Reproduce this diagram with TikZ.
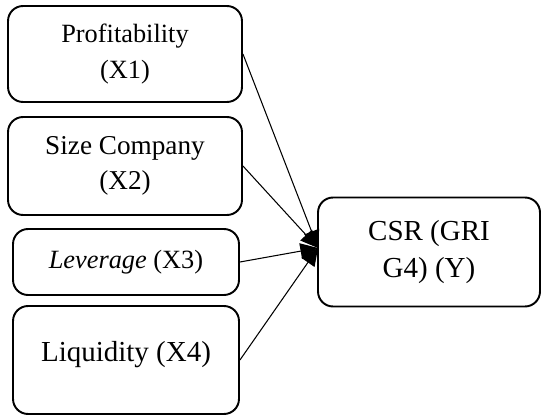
\documentclass[tikz,border=0pt]{standalone}
\usepackage{fontspec}
\setmainfont{Liberation Serif}
\usetikzlibrary{arrows.meta}

\begin{document}
\begin{tikzpicture}[x=0.02cm, y=-0.02cm,
	varbox/.style={rectangle, rounded corners=0.3cm, draw=black, line width=1.1pt, align=center, inner sep=2pt},
	link/.style={draw=black, line width=0.6pt, -{Triangle[length=10pt,width=9pt]}}]
			\useasboundingbox (0,0) rectangle (541,416);
			\node[varbox, minimum width=4.68cm, minimum height=1.92cm, font=\fontsize{15}{20}\selectfont] (x1) at (125,54) {Profitability\\(X1)};
			\node[varbox, minimum width=4.68cm, minimum height=1.96cm, font=\fontsize{15.5}{20}\selectfont] (x2) at (125,166) {Size Company\\(X2)};
			\node[varbox, minimum width=4.52cm, minimum height=1.32cm, font=\fontsize{15}{20}\selectfont] (x3) at (126,262) {\textit{Leverage} (X3)};
			\node[varbox, minimum width=4.52cm, minimum height=2.16cm, font=\fontsize{16.5}{20}\selectfont] (x4) at (126,360) {Liquidity (X4)\\[-10pt]~};
			\node[varbox, minimum width=4.44cm, minimum height=2.18cm, font=\fontsize{16.5}{21}\selectfont] (y) at (429,252) {CSR (GRI\\G4) (Y)};
			\coordinate (tip) at (318,248);
			
			\path[link] (x1.east) -- (tip);
			\path[link] (x2.east) -- (tip);
			\path[link] (x3.east) -- (tip);
			\path[link] (x4.east) -- (tip);
			\end{tikzpicture}
\end{document}
